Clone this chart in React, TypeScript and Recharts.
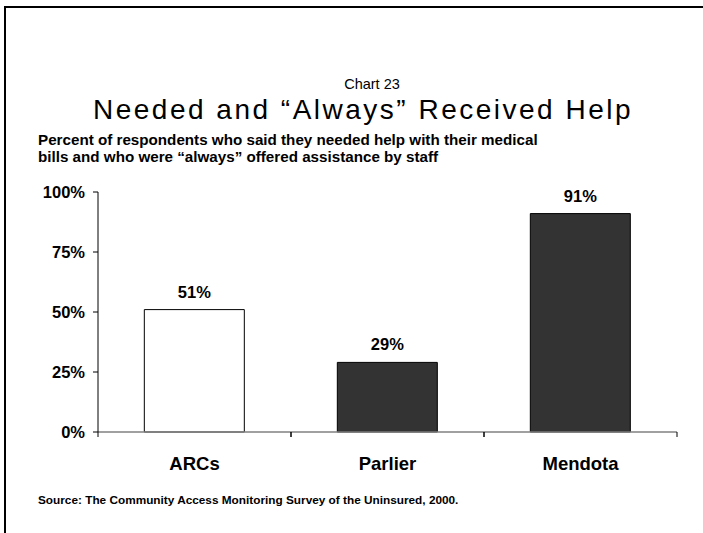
import React from 'react';
import { BarChart, Bar, XAxis, YAxis, LabelList, Cell } from 'recharts';

const categories = ['ARCs', 'Parlier', 'Mendota'];
const percentValues = [51, 29, 91];
const yTicks = [0, 25, 50, 75, 100];
const barFills = ['#ffffff', '#333333', '#333333'];

const chartNumber = 'Chart 23';
const chartTitle = 'Needed and \u201CAlways\u201D Received Help';
const subtitleLines = [
  'Percent of respondents who said they needed help with their medical',
  'bills and who were \u201Calways\u201D offered assistance by staff',
];
const sourceText = 'Source: The Community Access Monitoring Survey of the Uninsured, 2000.';

const data = categories.map((name, i) => ({ name, value: percentValues[i] }));

const FONT = '"Liberation Sans", Arial, sans-serif';

const CategoryTick = (props: any) => {
  const { x, y, payload } = props;
  const half = payload && typeof payload.offset === 'number' ? payload.offset : 0;
  return (
    <g>
      <line x1={x - half} x2={x - half} y1={y} y2={y + 5} stroke="#000" strokeWidth={1} />
      <line x1={x + half} x2={x + half} y1={y} y2={y + 5} stroke="#000" strokeWidth={1} />
      <text x={x} y={y + 38} textAnchor="middle" fontFamily={FONT} fontWeight="bold" fontSize={18.5} fill="#000">
        {payload.value}
      </text>
    </g>
  );
};

export default function App() {
  return (
    <div style={{ position: 'absolute', left: 0, top: 0, width: 703, height: 533, background: '#fff' }}>
      <BarChart
        width={703}
        height={533}
        data={data}
        margin={{ top: 192, right: 26, bottom: 71, left: 38 }}
        barCategoryGap="24%"
      >
        <XAxis
          dataKey="name"
          height={30}
          axisLine={{ stroke: '#808080', strokeWidth: 1.5 }}
          tickLine={false}
          tickSize={0}
          tickMargin={0}
          tick={<CategoryTick />}
          interval={0}
        />
        <YAxis
          domain={[0, 100]}
          ticks={yTicks}
          width={60}
          tickFormatter={(v: number) => `${v}%`}
          axisLine={{ stroke: '#000', strokeWidth: 1 }}
          tickLine={{ stroke: '#000' }}
          tickSize={5}
          tickMargin={8}
          tick={{ fontFamily: FONT, fontWeight: 'bold', fontSize: 16.5, fill: '#000' }}
        />
        <Bar dataKey="value" stroke="#000" strokeWidth={1} isAnimationActive={false}>
          {data.map((d, i) => (
            <Cell key={d.name} fill={barFills[i]} />
          ))}
          <LabelList
            dataKey="value"
            position="top"
            offset={12}
            formatter={(v: any) => `${v}%`}
            style={{ fontFamily: FONT, fontWeight: 'bold', fontSize: 16.5, fill: '#000' }}
          />
        </Bar>
      </BarChart>
      <svg
        width={703}
        height={533}
        style={{ position: 'absolute', left: 0, top: 0, pointerEvents: 'none' }}
      >
        <rect x={4} y={6} width={699} height={2} fill="#000" />
        <rect x={4} y={6} width={2} height={527} fill="#000" />
        <text x={372} y={89} textAnchor="middle" fontFamily={FONT} fontSize={14.5} fill="#000">
          {chartNumber}
        </text>
        <text x={363} y={119} textAnchor="middle" fontFamily={FONT} fontSize={28} letterSpacing={2.5} fill="#000">
          {chartTitle}
        </text>
        {subtitleLines.map((line, i) => (
          <text key={i} x={38} y={145 + i * 17} fontFamily={FONT} fontWeight="bold" fontSize={15.2} fill="#000">
            {line}
          </text>
        ))}
        <text x={38} y={504} fontFamily={FONT} fontWeight="bold" fontSize={11.8} fill="#000">
          {sourceText}
        </text>
      </svg>
    </div>
  );
}
